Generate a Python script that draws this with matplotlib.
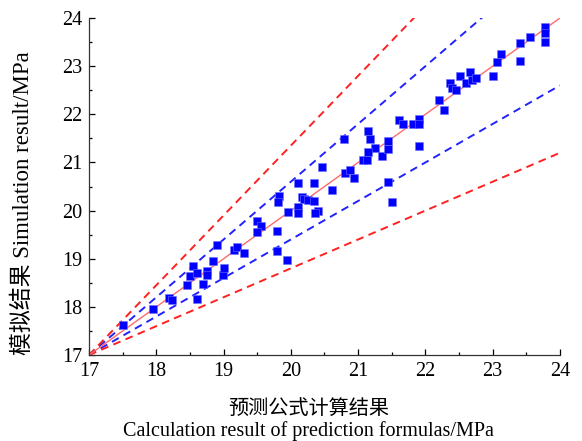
import numpy as np
import matplotlib
matplotlib.use("Agg")
import matplotlib.pyplot as plt
from matplotlib.ticker import MultipleLocator

plt.rcParams['font.family'] = ['Liberation Serif', 'Noto Sans CJK SC']

# predicted (x) vs simulated (y) strength, MPa
pred = [17.50, 17.95, 18.19, 18.24, 18.45, 18.60, 18.50, 18.54, 18.61, 18.70,
        18.75, 18.75, 18.85, 18.90, 18.99, 19.00, 19.15, 19.20, 19.30, 19.50,
        19.55, 19.50, 19.79, 19.80, 19.95, 19.82, 19.81, 19.96, 20.10, 20.11,
        20.11, 20.16, 20.19, 20.26, 20.34, 20.34, 20.41, 20.36, 20.46, 20.61,
        20.79, 20.80, 20.88, 20.94, 21.08, 21.13, 21.15, 21.18, 21.25, 21.15,
        21.36, 21.45, 21.45, 21.45, 21.51, 21.61, 21.67, 21.82, 21.91, 21.91,
        21.91, 22.21, 22.28, 22.37, 22.40, 22.46, 22.51, 22.60, 22.66, 22.69,
        22.76, 23.01, 23.06, 23.13, 23.41, 23.41, 23.55, 23.78, 23.78, 23.78]
sim = [17.62, 17.95, 18.19, 18.15, 18.45, 18.17, 18.65, 18.85, 18.71, 18.47,
       18.75, 18.66, 18.96, 19.28, 18.66, 18.81, 19.18, 19.25, 19.11, 19.78,
       19.67, 19.55, 19.57, 19.17, 18.97, 20.31, 20.17, 19.98, 20.58, 20.08,
       19.94, 20.29, 20.24, 20.22, 20.58, 20.19, 19.99, 19.94, 20.90, 20.42,
       21.48, 20.79, 20.84, 20.68, 21.06, 21.05, 21.66, 21.48, 21.30, 21.22,
       21.13, 21.45, 21.28, 20.59, 20.17, 21.88, 21.79, 21.79, 21.91, 21.79,
       21.34, 22.29, 22.10, 22.65, 22.55, 22.50, 22.80, 22.66, 22.89, 22.72,
       22.75, 22.80, 23.08, 23.26, 23.49, 23.10, 23.60, 23.81, 23.70, 23.51]

origin = 17.0
# slopes of the dashed bound lines through (17, 17)
blue_slopes = [1.2, 0.8]
red_slopes = [1.45, 0.6]

fig = plt.figure(figsize=(5.82, 4.41), dpi=100)
ax = fig.add_axes([0.153, 0.195, 0.809, 0.764])

xs = np.array([17.0, 24.0])
for slopes, col in ((blue_slopes, '#2222ff'), (red_slopes, '#ff2020')):
    for k in slopes:
        ax.plot(xs, origin + k * (xs - origin), color=col, lw=1.4,
                linestyle=(0, (4, 2.8)), zorder=2)
ax.plot(xs, xs, color='#ff6a6a', lw=1.0, zorder=2)

ax.scatter(pred, sim, marker='s', s=34, color='#0000ff',
           edgecolors='#6f6fff', linewidths=0.4, zorder=3)

ax.set_xlim(17, 24)
ax.set_ylim(17, 24)
ax.xaxis.set_major_locator(MultipleLocator(1))
ax.yaxis.set_major_locator(MultipleLocator(1))
ax.xaxis.set_minor_locator(MultipleLocator(0.5))
ax.yaxis.set_minor_locator(MultipleLocator(0.5))
ax.tick_params(which='both', direction='in', labelsize=14.5, width=0.9)
ax.tick_params(which='major', length=4)
ax.tick_params(which='minor', length=2.5)
ax.tick_params(axis='x', pad=5)
ax.tick_params(axis='y', pad=5)
ax.spines['top'].set_visible(False)
ax.spines['right'].set_visible(False)
for s in ('left', 'bottom'):
    ax.spines[s].set_linewidth(0.9)
    ax.spines[s].set_color('#333333')

ax.set_xlabel('预测公式计算结果\nCalculation result of prediction formulas/MPa',
              fontsize=14.5, linespacing=1.15)
ax.xaxis.set_label_coords(0.467, -0.132)
ax.set_ylabel('模拟结果 Simulation result/MPa', fontsize=16.5)
ax.yaxis.set_label_coords(-0.118, 0.45)

fig.savefig('out.png', dpi=100)
